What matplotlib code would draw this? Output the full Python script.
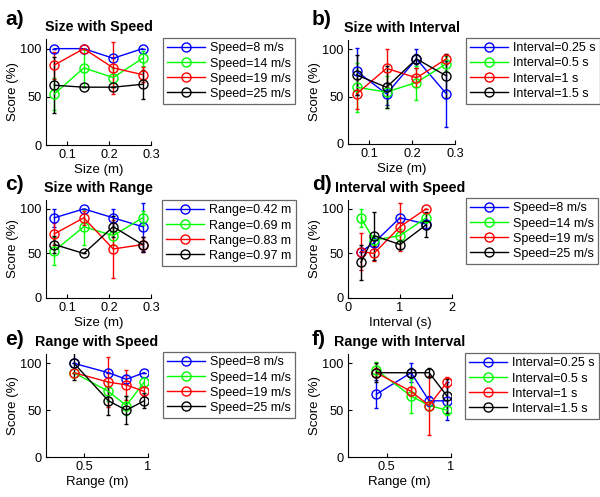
import matplotlib
matplotlib.use("Agg")
import matplotlib.pyplot as plt
import numpy as np

plt.rcParams['font.family'] = ['Liberation Sans', 'DejaVu Sans']

colors = ['#0000ff', '#00ff00', '#ff0000', '#000000']

size_x = [0.07, 0.14, 0.21, 0.28]
interval_x = [0.25, 0.5, 1.0, 1.5]
range_x = [0.42, 0.69, 0.83, 0.97]

speed_labels = ['Speed=8 m/s', 'Speed=14 m/s', 'Speed=19 m/s', 'Speed=25 m/s']
interval_labels = ['Interval=0.25 s', 'Interval=0.5 s', 'Interval=1 s', 'Interval=1.5 s']
range_labels = ['Range=0.42 m', 'Range=0.69 m', 'Range=0.83 m', 'Range=0.97 m']

# a) Size with Speed
a_vals = [[100, 100, 90, 100],
          [53, 80, 70, 90],
          [83, 100, 80, 73],
          [62, 60, 60, 63]]
a_err = [[0, 0, 0, 0],
         [17, 20, 10, 8],
         [14, 0, 27, 8],
         [29, 0, 0, 15]]

# b) Size with Interval
b_vals = [[77, 53, 90, 53],
          [60, 55, 65, 85],
          [53, 80, 70, 90],
          [73, 60, 90, 72]]
b_err = [[25, 12, 10, 35],
         [26, 17, 18, 8],
         [16, 20, 10, 5],
         [21, 22, 5, 23]]

# c) Size with Range
c_vals = [[90, 100, 90, 80],
          [53, 80, 70, 90],
          [72, 90, 55, 60],
          [60, 50, 80, 60]]
c_err = [[10, 0, 10, 27],
         [16, 20, 10, 8],
         [12, 8, 32, 8],
         [10, 0, 12, 8]]

# d) Interval with Speed
d_vals = [[52, 62, 90, 83],
          [90, 65, 70, 90],
          [52, 50, 80, 100],
          [40, 70, 60, 82]]
d_err = [[0, 5, 0, 5],
         [10, 5, 8, 5],
         [21, 8, 27, 0],
         [20, 27, 5, 14]]

# e) Range with Speed
e_vals = [[100, 90, 83, 90],
          [90, 70, 55, 80],
          [90, 80, 77, 70],
          [100, 60, 50, 60]]
e_err = [[0, 0, 5, 0],
         [0, 10, 10, 5],
         [0, 27, 16, 5],
         [18, 15, 15, 8]]

# f) Range with Interval
f_vals = [[67, 90, 60, 60],
          [93, 65, 55, 50],
          [90, 70, 55, 80],
          [90, 90, 90, 65]]
f_err = [[15, 10, 5, 20],
         [8, 18, 5, 5],
         [5, 5, 32, 5],
         [10, 5, 5, 18]]

W, H = 600, 497
fig = plt.figure(figsize=(6.0, 4.97), dpi=100)


def box(l, r, t, b):
    return [l / W, 1 - b / H, (r - l) / W, (b - t) / H]


panels = [
    dict(tag='a)', title='Size with Speed', x=size_x, vals=a_vals, err=a_err, labels=speed_labels,
         pos=box(46, 151, 39, 145), xlim=(0.05, 0.3), xticks=[0.1, 0.2, 0.3], xt=['0.1', '0.2', '0.3'],
         xlabel='Size (m)', leg=(163, 38), tagpos=(5, 25)),
    dict(tag='b)', title='Size with Interval', x=size_x, vals=b_vals, err=b_err, labels=interval_labels,
         pos=box(348, 455, 40, 144), xlim=(0.05, 0.3), xticks=[0.1, 0.2, 0.3], xt=['0.1', '0.2', '0.3'],
         xlabel='Size (m)', leg=(466, 38), tagpos=(312, 25)),
    dict(tag='c)', title='Size with Range', x=size_x, vals=c_vals, err=c_err, labels=range_labels,
         pos=box(46, 151, 200, 298), xlim=(0.05, 0.3), xticks=[0.1, 0.2, 0.3], xt=['0.1', '0.2', '0.3'],
         xlabel='Size (m)', leg=(162, 200), tagpos=(5, 190)),
    dict(tag='d)', title='Interval with Speed', x=interval_x, vals=d_vals, err=d_err, labels=speed_labels,
         pos=box(348, 452, 200, 298), xlim=(0, 2), xticks=[0, 1, 2], xt=['0', '1', '2'],
         xlabel='Interval (s)', leg=(466, 198), tagpos=(312, 190)),
    dict(tag='e)', title='Range with Speed', x=range_x, vals=e_vals, err=e_err, labels=speed_labels,
         pos=box(46, 148, 354, 457), xlim=(0.2, 1.0), xticks=[0.5, 1.0], xt=['0.5', '1'],
         xlabel='Range (m)', leg=(163, 352), tagpos=(5, 345)),
    dict(tag='f)', title='Range with Interval', x=range_x, vals=f_vals, err=f_err, labels=interval_labels,
         pos=box(348, 451, 354, 457), xlim=(0.2, 1.0), xticks=[0.5, 1.0], xt=['0.5', '1'],
         xlabel='Range (m)', leg=(465, 353), tagpos=(312, 345)),
]

for p in panels:
    ax = fig.add_axes(p['pos'])
    handles = []
    for i in range(4):
        ax.errorbar(p['x'], p['vals'][i], yerr=p['err'][i], color=colors[i], lw=1.0,
                    marker='o', ms=6.5, mfc='none', mec=colors[i], mew=1.0,
                    elinewidth=1.0, capsize=1.5, capthick=0.8)
        h, = ax.plot([], [], color=colors[i], lw=1.0, marker='o', ms=6.5, mfc='none', mew=1.0)
        handles.append(h)
    ax.set_xlim(*p['xlim'])
    ax.set_ylim(0, 110)
    ax.set_xticks(p['xticks'])
    ax.set_xticklabels(p['xt'])
    ax.set_yticks([0, 50, 100])
    ax.tick_params(direction='in', length=3, width=0.8, labelsize=9.2, pad=3)
    ax.spines['top'].set_visible(False)
    ax.spines['right'].set_visible(False)
    for s in ('left', 'bottom'):
        ax.spines[s].set_linewidth(0.8)
    ax.set_xlabel(p['xlabel'], fontsize=9.5, labelpad=2)
    ax.set_ylabel('Score (%)', fontsize=9.5, labelpad=1)
    ax.set_title(p['title'], fontsize=10.3, fontweight='bold', pad=6)
    lx, ly = p['leg']
    leg = fig.legend(handles, p['labels'], loc='upper left',
                     bbox_to_anchor=(lx / W, 1 - ly / H), fontsize=9,
                     frameon=True, fancybox=False, handlelength=3.0, handletextpad=0.4,
                     borderpad=0.35, labelspacing=0.25, borderaxespad=0)
    leg.get_frame().set_edgecolor('#444444')
    leg.get_frame().set_linewidth(0.9)
    tx, ty = p['tagpos']
    fig.text(tx / W, 1 - ty / H, p['tag'], fontsize=15, fontweight='bold', va='baseline', ha='left')

fig.savefig('out.png', dpi=100)
